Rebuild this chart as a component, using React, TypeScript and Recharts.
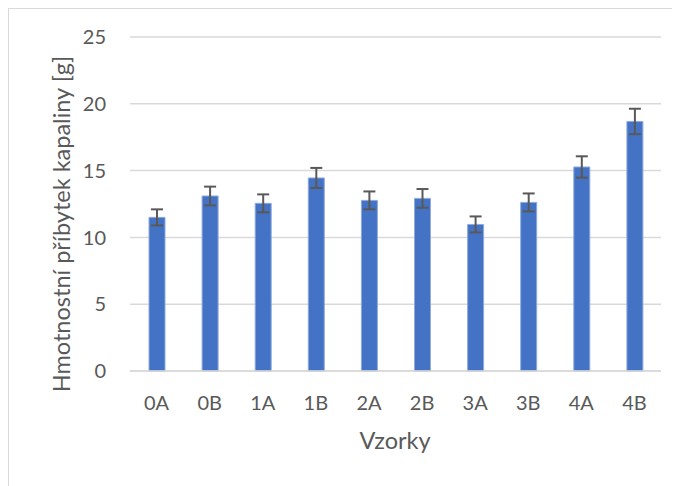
import React from 'react';
import { BarChart, Bar, XAxis, YAxis, CartesianGrid, ErrorBar, Label } from 'recharts';

const samples = ['0A', '0B', '1A', '1B', '2A', '2B', '3A', '3B', '4A', '4B'];
const means = [11.5, 13.1, 12.55, 14.45, 12.77, 12.92, 10.97, 12.62, 15.27, 18.68];
const errors = [0.6, 0.7, 0.67, 0.75, 0.67, 0.7, 0.6, 0.67, 0.8, 0.95];
const yTicks = [0, 5, 10, 15, 20, 25];

const data = samples.map((name, i) => ({ name, value: means[i], err: errors[i] }));

const FONT = 'Lato, "Open Sans", sans-serif';
const TEXT = '#595959';

export default function App() {
  return (
    <div
      style={{
        width: 671,
        height: 477,
        borderTop: '1px solid #d9d9d9',
        borderLeft: '1px solid #d9d9d9',
        fontFamily: FONT,
      }}
    >
      <BarChart
        width={671}
        height={477}
        data={data}
        margin={{ top: 28, right: 19, left: 0, bottom: 0 }}
      >
        <CartesianGrid vertical={false} stroke="#d9d9d9" strokeWidth={1.5} />
        <XAxis
          dataKey="name"
          height={115}
          tickLine={false}
          axisLine={{ stroke: '#d9d9d9', strokeWidth: 1.5 }}
          tickSize={0}
          tickMargin={25}
          tick={{ fill: TEXT, fontSize: 20, fontFamily: FONT }}
        >
          <Label
            content={() => (
              <text x={386} y={440} textAnchor="middle" fill={TEXT} fontSize={23.5} fontFamily={FONT}>
                Vzorky
              </text>
            )}
          />
        </XAxis>
        <YAxis
          width={121}
          domain={[0, 25]}
          ticks={yTicks}
          interval={0}
          tickLine={false}
          axisLine={false}
          tickSize={0}
          tickMargin={24}
          tick={{ fill: TEXT, fontSize: 20, fontFamily: FONT }}
        >
          <Label
            content={() => (
              <text
                x={61}
                y={215}
                transform="rotate(-90, 61, 215)"
                textAnchor="middle"
                fill={TEXT}
                fontSize={23.5}
                fontFamily={FONT}
              >
                Hmotnostní příbytek kapaliny [g]
              </text>
            )}
          />
        </YAxis>
        <Bar dataKey="value" fill="#4472C4" stroke="#8FAADC" strokeWidth={1} barSize={16} isAnimationActive={false}>
          <ErrorBar dataKey="err" direction="y" width={6} stroke="#595959" strokeWidth={2} isAnimationActive={false} />
        </Bar>
      </BarChart>
    </div>
  );
}
